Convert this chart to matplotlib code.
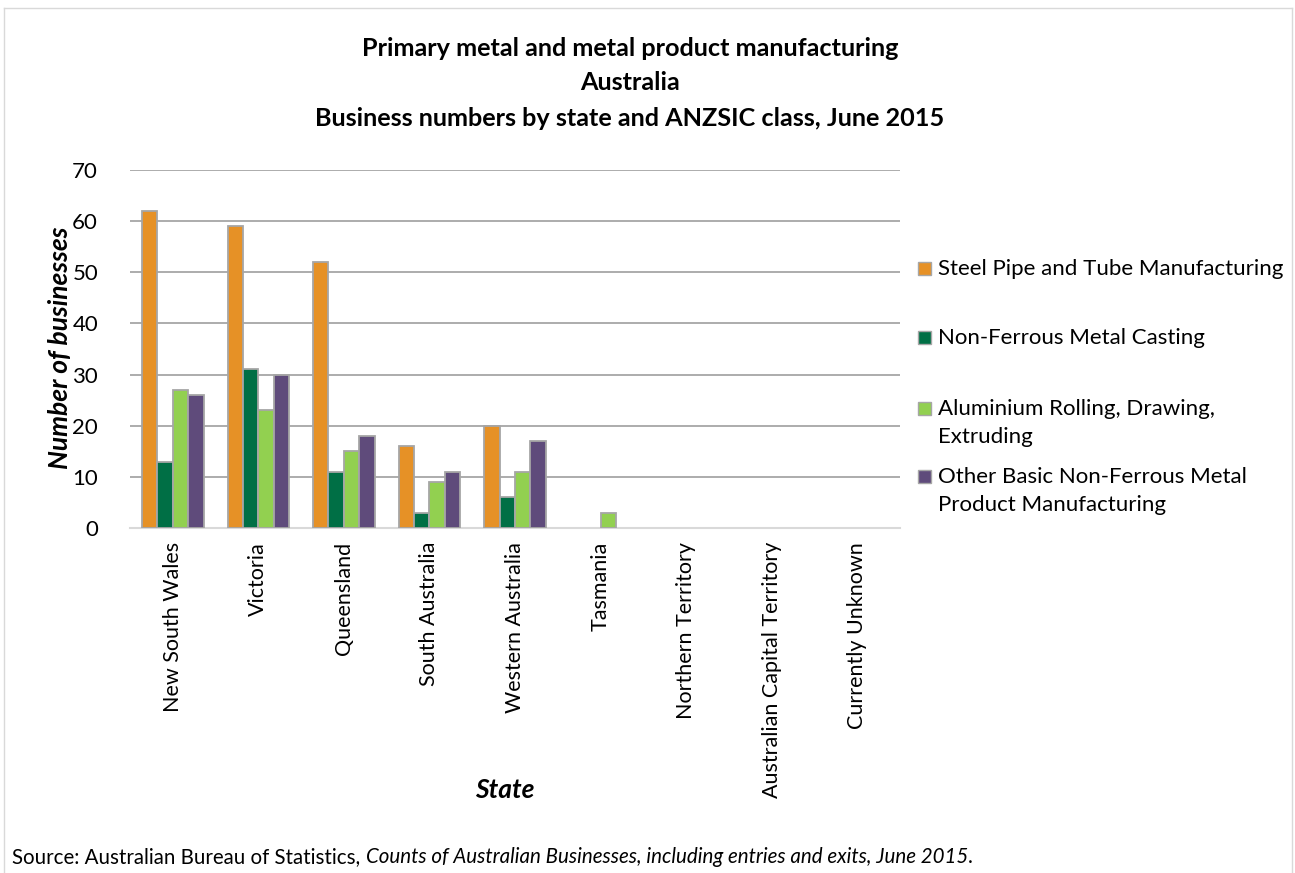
import matplotlib.pyplot as plt
import numpy as np
from matplotlib.lines import Line2D
from matplotlib.patches import Rectangle

plt.rcParams["font.family"] = ["Lato", "DejaVu Sans"]

states = [
    "New South Wales",
    "Victoria",
    "Queensland",
    "South Australia",
    "Western Australia",
    "Tasmania",
    "Northern Territory",
    "Australian Capital Territory",
    "Currently Unknown",
]
series_names = [
    "Steel Pipe and Tube Manufacturing",
    "Non-Ferrous Metal Casting",
    "Aluminium Rolling, Drawing,\nExtruding",
    "Other Basic Non-Ferrous Metal\nProduct Manufacturing",
]
steel_pipe = [62, 59, 52, 16, 20, 0, 0, 0, 0]
nonferrous_casting = [13, 31, 11, 3, 6, 0, 0, 0, 0]
aluminium = [27, 23, 15, 9, 11, 3, 0, 0, 0]
other_nonferrous = [26, 30, 18, 11, 17, 0, 0, 0, 0]
colors = ["#E69126", "#006F45", "#92D050", "#5F4B7B"]

W, H = 1295, 873
fig = plt.figure(figsize=(W / 100, H / 100), dpi=100)
ax = fig.add_axes([130 / W, 1 - 528 / H, 770 / W, 358 / H])

x = np.arange(len(states))
width = 0.18
all_series = [steel_pipe, nonferrous_casting, aluminium, other_nonferrous]
for i, vals in enumerate(all_series):
    offs = (i - 1.5) * width
    bars = ax.bar(x + offs, vals, width, color=colors[i], edgecolor="#A6A6A6",
                  linewidth=1.3, label=series_names[i], zorder=3)
    for b, v in zip(bars, vals):
        if v == 0:
            b.set_visible(False)

ax.set_xlim(-0.5, len(states) - 0.5)
ax.set_ylim(0, 70)
ax.set_yticks(range(0, 71, 10))
ax.yaxis.grid(True, color="#A6A6A6", linewidth=1.3, zorder=0)
ax.set_xticks(x)
ax.set_xticklabels(states, rotation=90, fontsize=15.5)
ax.tick_params(axis="y", labelsize=16, length=0, pad=23)
ax.tick_params(axis="x", length=0, pad=10)
for s in ["top", "right", "left"]:
    ax.spines[s].set_visible(False)
ax.spines["bottom"].set_color("#D9D9D9")
ax.spines["bottom"].set_linewidth(1.5)

fig.text(60 / W, 1 - 348 / H, "Number of businesses", fontsize=19,
         fontweight="bold", fontstyle="italic", rotation=90,
         ha="center", va="center")
fig.text(505 / W, 1 - 790 / H, "State", fontsize=19, fontweight="bold",
         fontstyle="italic", ha="center", va="center")

title_lines = [
    "Primary metal and metal product manufacturing",
    "Australia",
    "Business numbers by state and ANZSIC class, June 2015",
]
for k, line in enumerate(title_lines):
    fig.text(630 / W, 1 - (48 + 35 * k) / H, line, fontsize=18.2,
             fontweight="bold", ha="center", va="center")

# source note: plain, italic title, full stop
renderer = fig.canvas.get_renderer()
src_y = 1 - 857 / H
x0 = 12
for part, style in [("Source: Australian Bureau of Statistics, ", "normal"),
                    ("Counts of Australian Businesses, including entries and exits, June 2015", "italic"),
                    (".", "normal")]:
    t = fig.text(x0 / W, src_y, part, fontsize=14.8, fontstyle=style,
                 va="center", ha="left")
    x0 = t.get_window_extent(renderer=renderer).x1

# legend laid out like the Excel original
legend_rows = [268, 337, 408, 476]
for name, col, yy in zip(series_names, colors, legend_rows):
    fig.add_artist(Rectangle((918 / W, 1 - (yy + 7) / H), 13 / W, 13 / H,
                             facecolor=col, edgecolor="#A6A6A6", linewidth=1,
                             transform=fig.transFigure))
    fig.text(938 / W, 1 - (yy - 9) / H, name, fontsize=16, va="top",
             ha="left", linespacing=1.5)

# chart border
for xs, ys in [([0.003, 0.003], [0, 0.991]), ([0.003, 0.998], [0.991, 0.991]),
               ([0.998, 0.998], [0, 0.991])]:
    fig.add_artist(Line2D(xs, ys, color="#D9D9D9", linewidth=1,
                          transform=fig.transFigure))

fig.savefig("out.png", dpi=100)
